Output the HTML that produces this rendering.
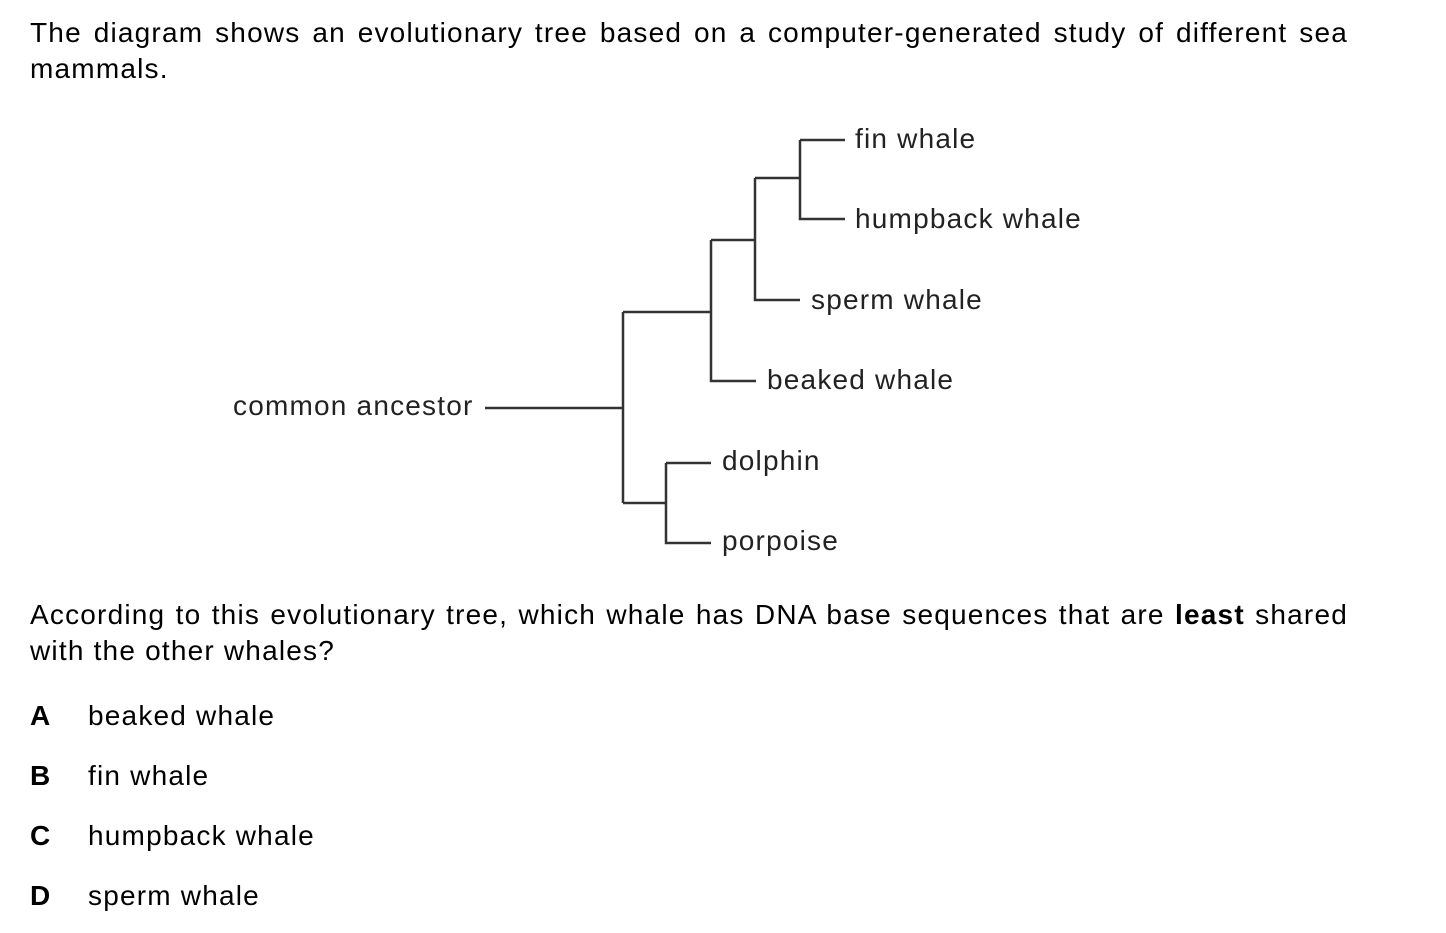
<!DOCTYPE html>
<html><head><style>
body{margin:0;width:1446px;height:933px;background:#fff;font-family:"Liberation Sans",Arial,sans-serif;color:#000;position:relative;overflow:hidden}
.t{position:absolute;font-size:28px;letter-spacing:1.2px;white-space:nowrap;line-height:36px}
.l{position:absolute;font-size:28px;letter-spacing:1.2px;white-space:nowrap;color:#222;line-height:30px}
</style></head><body>
<div class="t" style="left:30px;top:15px;width:1318px;white-space:normal;text-align:justify;text-align-last:left">The diagram shows an evolutionary tree based on a computer-generated study of different sea mammals.</div>
<svg width="1446" height="933" style="position:absolute;left:0;top:0">
<g stroke="#333" stroke-width="2.5" fill="none">
<path d="M485 408H623M623 312V503M623 312H711M711 240V381H756M711 240H755M755 178V300H800M755 178H800M800 140V219H845M800 140H845M623 503H666M666 463V543H711M666 463H711"/>
</g>
</svg>
<div class="l" style="left:855px;top:124px">fin whale</div>
<div class="l" style="left:855px;top:204px">humpback whale</div>
<div class="l" style="left:811px;top:285px">sperm whale</div>
<div class="l" style="left:767px;top:365px">beaked whale</div>
<div class="l" style="left:233px;top:391px">common ancestor</div>
<div class="l" style="left:722px;top:446px">dolphin</div>
<div class="l" style="left:722px;top:526px">porpoise</div>
<div class="t" style="left:30px;top:597px;width:1318px;white-space:normal;text-align:justify;text-align-last:left">According to this evolutionary tree, which whale has DNA base sequences that are <b>least</b> shared with the other whales?</div>
<div class="t" style="left:30px;top:698px"><b>A</b></div><div class="t" style="left:88px;top:698px">beaked whale</div>
<div class="t" style="left:30px;top:758px"><b>B</b></div><div class="t" style="left:88px;top:758px">fin whale</div>
<div class="t" style="left:30px;top:818px"><b>C</b></div><div class="t" style="left:88px;top:818px">humpback whale</div>
<div class="t" style="left:30px;top:878px"><b>D</b></div><div class="t" style="left:88px;top:878px">sperm whale</div>
</body></html>
